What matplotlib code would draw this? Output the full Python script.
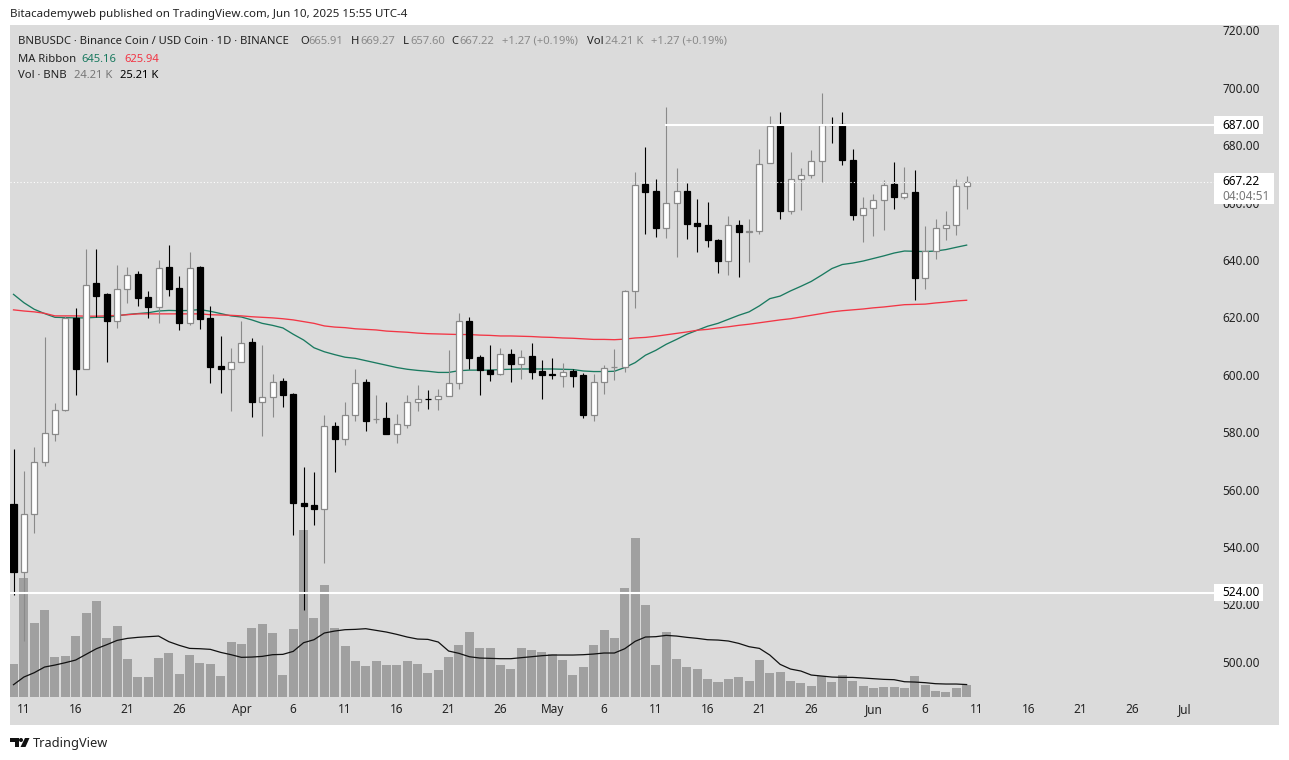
import matplotlib
matplotlib.use("Agg")
import matplotlib.pyplot as plt
from matplotlib.patches import Rectangle, Polygon, Circle
import pandas as pd

plt.rcParams['font.family'] = ['Noto Sans', 'DejaVu Sans']

dates = pd.date_range('2025-03-10', periods=93)

highs = [574.0,566.4,574.9,613.0,590.0,620.5,623.1,643.7,643.7,628.4,638.1,637.5,636.0,629.1,639.9,645.1,634.3,642.7,637.8,623.9,613.4,609.2,618.6,612.7,610.3,600.2,599.0,593.8,567.8,566.0,
         585.9,583.4,590.4,601.9,598.6,593.1,590.6,586.4,593.0,596.3,594.6,595.1,608.5,621.6,620.2,607.0,610.5,609.4,609.1,608.5,610.9,605.0,605.7,604.0,601.9,600.6,600.1,603.3,609.1,629.5,
         670.5,679.2,668.3,693.2,671.9,666.7,661.1,660.1,647.2,655.2,653.8,654.2,678.5,690.0,691.5,677.5,671.9,678.2,698.0,689.7,691.5,678.5,661.8,662.9,667.7,674.0,672.3,671.2,651.7,654.2,657.0,668.1,669.27]
lows = [523.3,507.1,544.9,568.2,576.9,587.5,593.0,602.0,620.2,604.4,616.2,625.0,624.0,619.8,618.0,627.4,615.6,617.2,615.9,597.1,593.6,587.4,604.5,585.2,578.7,585.2,588.8,544.2,518.1,547.7,
        534.3,566.0,575.4,583.9,580.4,583.2,579.3,576.2,581.4,587.4,588.0,587.7,592.5,594.9,601.9,592.8,597.7,599.8,597.5,598.5,598.4,591.4,598.5,595.6,595.6,584.8,583.9,593.2,598.1,601.0,
        623.2,649.0,648.0,647.5,641.0,647.3,642.7,644.4,635.4,634.6,633.9,639.2,649.0,673.8,654.2,655.9,657.3,668.6,667.1,680.6,673.1,653.8,646.1,648.2,650.3,657.6,661.1,625.9,629.8,640.2,646.9,648.6,657.60]
opens = [554.8,531.3,551.6,569.7,579.5,587.8,619.9,602.1,631.8,628.0,618.8,630.0,635.0,627.0,623.7,637.4,630.1,618.1,637.4,619.6,602.9,602.1,604.6,611.3,590.6,592.4,597.7,593.2,555.2,554.5,
         553.3,582.2,577.7,585.8,597.4,584.4,584.8,579.5,582.6,590.6,591.7,591.7,592.7,597.2,618.8,606.0,601.8,600.4,607.3,603.9,606.4,601.2,600.1,599.6,601.2,599.8,586.0,597.6,602.6,602.8,
         629.0,666.3,663.9,651.2,659.9,664.1,652.8,652.0,647.1,639.7,652.0,649.7,650.2,673.9,686.9,657.2,668.2,669.7,674.6,687.1,687.2,674.9,655.7,658.2,661.0,666.3,661.9,663.5,633.8,643.2,651.2,652.3,665.91]
closes = [531.3,551.6,569.7,579.8,587.8,619.9,602.0,631.4,627.4,618.7,630.0,634.9,626.7,623.6,637.3,629.9,618.0,637.3,619.4,602.7,602.0,604.6,611.2,590.5,592.4,597.6,593.0,555.3,554.2,553.3,
          582.2,577.6,585.8,597.2,583.9,584.7,579.4,583.0,590.6,591.7,591.5,592.6,597.2,618.8,605.8,601.7,600.3,607.3,603.7,606.3,601.0,599.8,600.0,601.1,599.5,586.0,597.6,602.5,602.7,629.0,
          666.2,663.7,651.1,659.9,664.1,652.4,651.7,647.0,639.6,652.0,649.8,650.0,673.5,686.8,657.1,668.3,669.7,674.6,687.1,687.0,674.8,655.7,658.2,661.0,666.2,661.9,663.4,633.6,643.1,651.2,652.3,665.9,667.22]
volumes = [67.8,246.4,152.9,179.9,82.3,84.4,125.9,173.7,198.6,121.8,146.7,78.2,40.8,40.8,80.3,90.7,47.1,86.5,69.9,67.8,42.9,113.5,109.3,142.6,150.9,132.2,45.0,140.5,346.0,163.3,
           231.8,142.6,105.2,74.0,63.7,74.0,65.7,65.7,74.0,67.8,49.1,55.4,82.3,107.3,134.2,101.0,101.0,65.7,57.4,101.0,96.9,92.7,88.6,76.1,45.0,61.6,107.3,138.4,121.8,225.6,
           329.4,190.3,65.7,134.2,78.2,61.6,57.4,36.7,30.4,36.7,40.8,32.5,76.1,49.1,51.2,32.5,28.4,22.1,42.9,30.4,45.0,32.5,22.1,18.0,20.1,20.1,18.0,42.9,24.2,11.8,9.7,18.0,24.21]
volume_ma = [24.9,40.8,49.8,61.6,65.7,70.6,76.1,87.9,99.6,108.0,116.9,121.1,123.2,124.6,125.9,114.2,106.6,100.3,99.6,98.3,92.0,87.2,81.7,82.3,83.7,87.2,87.9,94.1,112.1,118.3,
             132.2,136.3,139.1,139.8,141.2,137.7,134.2,129.4,123.9,119.7,119.0,113.5,94.8,90.0,83.0,80.3,79.6,78.9,78.9,81.0,83.0,85.1,86.5,86.5,86.5,87.2,88.6,90.7,90.7,99.6,
             114.9,123.9,124.6,127.3,125.9,123.2,121.1,118.3,117.6,115.6,110.7,103.8,100.3,86.5,67.1,57.4,53.3,45.0,42.9,40.8,40.1,40.1,38.8,37.4,36.0,35.3,31.1,30.4,29.1,27.0,26.3,26.3,25.21]
ma_fast = [628.0,625.1,622.8,621.3,620.0,619.9,619.8,619.8,620.0,620.0,620.5,621.0,621.3,621.6,622.2,622.4,622.3,622.4,622.7,622.1,621.3,620.5,620.1,619.1,617.9,617.2,616.3,614.1,612.1,609.4,
           608.0,607.0,606.1,605.7,604.9,604.1,603.3,602.5,601.9,601.5,601.2,600.8,600.8,601.4,601.6,601.6,601.6,601.8,601.9,602.0,602.0,602.0,602.0,601.9,601.8,601.3,601.1,601.1,601.2,602.5,
           604.2,606.8,608.5,610.6,612.3,614.1,615.5,616.9,617.9,619.3,620.7,621.9,624.0,626.5,627.4,629.2,630.8,632.5,634.7,637.0,638.4,638.9,639.6,640.5,641.4,642.4,643.1,643.0,642.9,643.1,643.6,644.4,645.16]
ma_slow = [622.6,622.2,621.9,621.4,620.5,620.5,620.5,620.4,620.4,620.5,620.7,620.9,621.2,621.2,621.2,621.2,621.2,621.2,621.2,620.9,620.8,620.7,620.5,620.2,620.0,619.8,619.5,619.1,618.5,617.9,
           617.0,616.6,616.4,616.0,615.8,615.6,615.2,615.0,614.8,614.5,614.3,614.2,614.1,614.0,614.0,613.8,613.7,613.5,613.5,613.4,613.3,613.1,613.0,612.8,612.7,612.5,612.3,612.3,612.2,612.4,
           612.8,613.0,613.4,613.9,614.4,614.9,615.5,615.8,616.3,616.7,617.2,617.6,618.1,618.6,619.1,619.5,620.1,620.7,621.3,621.9,622.3,622.6,622.9,623.3,623.6,624.0,624.4,624.5,624.6,625.0,625.3,625.7,625.94]

price_ticks = [720,700,680,660,640,620,600,580,560,540,520,500]
x_tick_dates = ['2025-03-11','2025-03-16','2025-03-21','2025-03-26','2025-04-01','2025-04-06','2025-04-11','2025-04-16',
                '2025-04-21','2025-04-26','2025-05-01','2025-05-06','2025-05-11','2025-05-16','2025-05-21','2025-05-26',
                '2025-06-01','2025-06-06','2025-06-11','2025-06-16','2025-06-21','2025-06-26','2025-07-01']
x_tick_labels = ['11','16','21','26','Apr','6','11','16','21','26','May','6','11','16','21','26','Jun','6','11','16','21','26','Jul']
month_labels = ['Apr','May','Jun','Jul']
level_high = 687.0
level_low = 524.0
last_close = 667.22

BG = '#dbdbdb'
GRAY = '#8a8a8a'
TXT = '#222222'
GREEN = '#1a7a60'
RED = '#f23645'
FS = 8.5
FS_LEG = 8.1

W, H = 1289, 760
fig = plt.figure(figsize=(W/100, H/100), dpi=100, facecolor='white')
rect = [10/W, (H-725)/H, 1269/W, 700/H]

xs = list(range(len(dates)))
xlim = (-0.338, 122.15)

# volume pane
ax_v = fig.add_axes(rect, facecolor=BG)
ax_v.bar(xs, volumes, width=0.87, color='#a0a0a0', linewidth=0)
ax_v.plot(xs, volume_ma, color='#111111', lw=0.9)
ax_v.set_xlim(*xlim)
ax_v.set_ylim(-58.75, 1394.5)
ax_v.set_xticks([]); ax_v.set_yticks([])
for s in ax_v.spines.values():
    s.set_visible(False)

# price pane
ax = fig.add_axes(rect, facecolor='none')
ax.set_xlim(*xlim)
ax.set_ylim(477.95, 721.85)
for s in ax.spines.values():
    s.set_visible(False)

ax.plot(xs, ma_fast, color=GREEN, lw=0.95, zorder=1.5)
ax.plot(xs, ma_slow, color=RED, lw=0.95, zorder=1.5)

up = [c >= o for o, c in zip(opens, closes)]
ax.vlines([x for x, u in zip(xs, up) if u], [l for l, u in zip(lows, up) if u], [h for h, u in zip(highs, up) if u],
          color=GRAY, lw=0.8, zorder=2)
ax.vlines([x for x, u in zip(xs, up) if not u], [l for l, u in zip(lows, up) if not u], [h for h, u in zip(highs, up) if not u],
          color='black', lw=0.8, zorder=2)
ax.bar(xs, [abs(c - o) for o, c in zip(opens, closes)], bottom=[min(o, c) for o, c in zip(opens, closes)],
       width=0.58, color=['white' if u else 'black' for u in up],
       edgecolor=[GRAY if u else 'black' for u in up], linewidth=0.9, zorder=3)

line_end = 115.9
ax.plot([63, line_end], [level_high, level_high], color='white', lw=1.5, zorder=4)
ax.plot([xlim[0], line_end], [level_low, level_low], color='white', lw=1.5, zorder=4)
ax.plot([xlim[0], line_end], [last_close, last_close], color='white', lw=0.8, ls=(0, (1, 2)), zorder=4)

pos = [(pd.Timestamp(d) - dates[0]).days for d in x_tick_dates]
ax.set_xticks(pos)
ax.set_xticklabels(x_tick_labels, fontsize=FS, color=TXT)
for lab in ax.get_xticklabels():
    if lab.get_text() in month_labels:
        lab.set_fontweight('bold')
ax.tick_params(axis='x', length=0, pad=-15.5, direction='in')
ax.xaxis.set_ticks_position('bottom')
ax.yaxis.tick_right()
ax.set_yticks(price_ticks)
ax.set_yticklabels([f'{p:.2f}' for p in price_ticks], fontsize=FS, color=TXT)
ax.tick_params(axis='y', length=0, pad=-41, direction='in')

tr = ax.get_yaxis_transform()
box_x = (1214 - 10) / 1269
txt_x = (1222 - 10) / 1269
def price_box(lo, hi, width_px):
    ax.add_patch(Rectangle((box_x, lo), width_px / 1269, hi - lo, transform=tr, facecolor='white',
                           edgecolor='none', zorder=5, clip_on=False))
price_box(684.0, 690.0, 49)
ax.text(txt_x, level_high, f'{level_high:.2f}', transform=tr, fontsize=FS, color='black', va='center', ha='left', zorder=6)
price_box(521.1, 527.0, 49)
ax.text(txt_x, level_low, f'{level_low:.2f}', transform=tr, fontsize=FS, color='black', va='center', ha='left', zorder=6)
price_box(659.4, 670.2, 60)
ax.text(txt_x, last_close, f'{last_close:.2f}', transform=tr, fontsize=FS, color='black', va='center', ha='left', zorder=6)
ax.text(txt_x, 662.0, '04:04:51', transform=tr, fontsize=FS, color='#777777', va='center', ha='left', zorder=6)

# overlay in pixel space for header, legend and logo
ov = fig.add_axes([0, 0, 1, 1], facecolor='none')
ov.set_xlim(0, W); ov.set_ylim(H, 0); ov.axis('off')
def t(x, y, s, c=TXT, fs=FS_LEG):
    ov.text(x, y, s, color=c, fontsize=fs, va='center', ha='left')
t(10, 14, 'Bitacademyweb published on TradingView.com, Jun 10, 2025 15:55 UTC-4', '#222222', 8.3)
t(18, 41, 'BNBUSDC · Binance Coin / USD Coin · 1D · BINANCE')
for x, s in [(300, 'O'), (351, 'H'), (403, 'L'), (451, 'C'), (587, 'Vol')]:
    t(x, 41, s)
for x, s in [(308.5, '665.91'), (360, '669.27'), (410, '657.60'), (459, '667.22'), (502, '+1.27 (+0.19%)'),
             (605, '24.21 K'), (651, '+1.27 (+0.19%)')]:
    t(x, 41, s, GRAY)
t(18, 59, 'MA Ribbon')
t(81, 59, '645.16', GREEN)
t(124, 59, '625.94', RED)
t(18, 75, 'Vol · BNB')
t(74, 75, '24.21 K', '#777777')
t(120, 75, '25.21 K', 'black')

ov.add_patch(Polygon([(10, 738), (18.5, 738), (18.5, 747), (14.5, 747), (14.5, 742), (10, 742)], facecolor='#111111', edgecolor='none'))
ov.add_patch(Circle((21, 740), 2, facecolor='#111111', edgecolor='none'))
ov.add_patch(Polygon([(25, 738), (29.5, 738), (25.5, 747), (20.5, 747)], facecolor='#111111', edgecolor='none'))
t(33, 743, 'TradingView', '#222222', 9.2)

fig.savefig('out.png', dpi=100, facecolor='white')
